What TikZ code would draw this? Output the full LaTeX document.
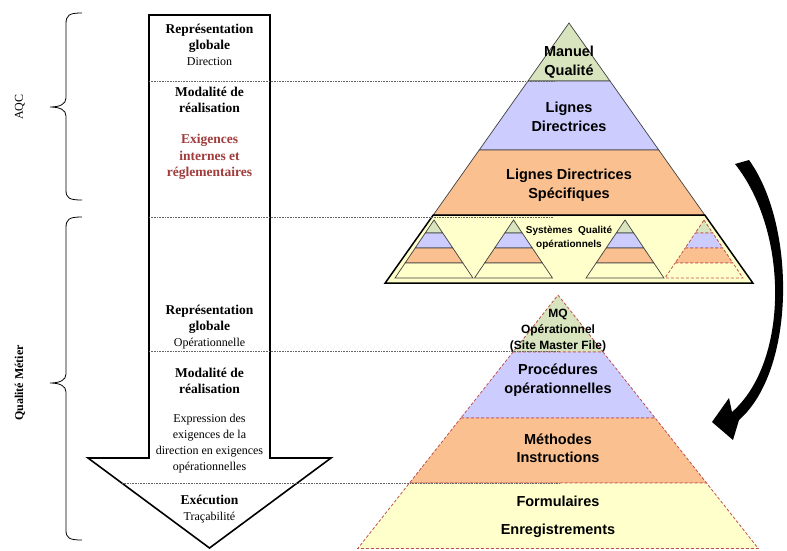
\documentclass[tikz,border=0pt]{standalone}
\usepackage{fontspec}
\setmainfont{Liberation Serif}
\newfontfamily\arialf{Liberation Sans}
\usetikzlibrary{arrows.meta}
\definecolor{pgreen}{RGB}{215,228,189}
\definecolor{pblue}{RGB}{204,204,255}
\definecolor{porange}{RGB}{250,192,144}
\definecolor{pyellow}{RGB}{255,255,204}
\definecolor{dred}{RGB}{192,80,77}
\definecolor{txtred}{RGB}{160,60,60}
\newcommand\PyrLayer[6]{%
  \path[#6] ({#1-#3*(#4-#2)},#4) -- ({#1+#3*(#4-#2)},#4) -- ({#1+#3*(#5-#2)},#5) -- ({#1-#3*(#5-#2)},#5) -- cycle;}
\tikzset{
  solidlay/.style={draw=black!75,line width=0.7pt},
  dashlay/.style={draw=dred,line width=0.8pt,dash pattern=on 3pt off 2pt},
  dotline/.style={draw=black!60,line width=0.7pt,dash pattern=on 0.8pt off 0.8pt},
  bracestyle/.style={draw=black,line width=0.8pt},
  lefttxt/.style={align=center,font=\fontsize{12}{16}\selectfont,inner sep=0pt},
  pyrtxt/.style={align=center,font=\arialf\bfseries\fontsize{14.5}{18.5}\selectfont,inner sep=0pt},
}
\begin{document}
\begin{tikzpicture}[x=1pt,y=-1pt]
\useasboundingbox (0,0) rectangle (787,550);
% ---- left arrow
\draw[line width=1.6pt,fill=white] (149,15) -- (270,15) -- (270,458) -- (331,458) -- (209.5,548) -- (88,458) -- (149,458) -- cycle;
% ---- top pyramid
\PyrLayer{569}{23}{0.707}{23}{81}{fill=pgreen,solidlay}
\PyrLayer{569}{23}{0.707}{81}{150}{fill=pblue,solidlay}
\PyrLayer{569}{23}{0.707}{150}{215}{fill=porange,solidlay}
\PyrLayer{569}{23}{0.707}{215}{283}{fill=pyellow,draw=black,line width=1.5pt}
% small pyramids
\foreach \c in {434,513.5,625}{
  \PyrLayer{\c}{220}{0.672}{220}{233}{fill=pgreen,solidlay}
  \PyrLayer{\c}{220}{0.672}{233}{248}{fill=pblue,solidlay}
  \PyrLayer{\c}{220}{0.672}{248}{263}{fill=porange,solidlay}
  \PyrLayer{\c}{220}{0.672}{263}{278}{fill=pyellow,solidlay}
}
\PyrLayer{704}{220}{0.672}{220}{233}{fill=pgreen,dashlay}
\PyrLayer{704}{220}{0.672}{233}{248}{fill=pblue,dashlay}
\PyrLayer{704}{220}{0.672}{248}{263}{fill=porange,dashlay}
\PyrLayer{704}{220}{0.672}{263}{278}{fill=pyellow,dashlay}
% ---- bottom pyramid
\PyrLayer{558}{295}{0.79}{295}{352}{fill=pgreen,dashlay}
\PyrLayer{558}{295}{0.79}{352}{418}{fill=pblue,dashlay}
\PyrLayer{558}{295}{0.79}{418}{483}{fill=porange,dashlay}
\PyrLayer{558}{295}{0.79}{483}{548.5}{fill=pyellow,dashlay}
% ---- dotted guide lines
\coordinate (d1a) at (149,81);  \coordinate (d1b) at (555,81);
\coordinate (d2a) at (149,217); \coordinate (d2b) at (553,217);
\coordinate (d3a) at (149,351); \coordinate (d3b) at (560,351);
\coordinate (d4a) at (122,483); \coordinate (d4b) at (560,483);
\draw[dotline] (d1a) -- (d1b);
\draw[dotline] (d2a) -- (d2b);
\draw[dotline] (d3a) -- (d3b);
\draw[dotline] (d4a) -- (d4b);
% ---- braces
\draw[bracestyle] (82,13) .. controls (69,13) and (66,15) .. (66,24) -- (66,98) .. controls (66,104) and (60,107) .. (50,107) .. controls (60,107) and (66,110) .. (66,116) -- (66,190) .. controls (66,198) and (69,200) .. (82,200);
\draw[bracestyle] (82,217) .. controls (69,217) and (66,219) .. (66,228) -- (66,374) .. controls (66,380) and (60,383) .. (50,383) .. controls (60,383) and (66,386) .. (66,392) -- (66,530) .. controls (66,538) and (69,540) .. (82,540);
\node[rotate=90,font=\fontsize{12}{14}\selectfont] (aqc) at (20,107) {AQC};
\node[rotate=90,font=\bfseries\fontsize{12}{14}\selectfont] (qm) at (20,383) {Qualité Métier};
% ---- left texts
\node[lefttxt] (t1) at (209.5,45) {\textbf{\fontsize{13.5}{16}\selectfont Représentation}\\\textbf{\fontsize{13.5}{16}\selectfont globale}\\Direction};
\node[lefttxt,font=\bfseries\fontsize{13.5}{16}\selectfont] (t2) at (209.5,100) {Modalité de\\réalisation};
\node[lefttxt,font=\bfseries\fontsize{13.5}{16.5}\selectfont,text=txtred] (t3) at (209.5,157) {Exigences\\internes et\\réglementaires};
\node[lefttxt] (t4) at (209.5,327) {\textbf{\fontsize{13.5}{16}\selectfont Représentation}\\\textbf{\fontsize{13.5}{16}\selectfont globale}\\Opérationnelle};
\node[lefttxt,font=\bfseries\fontsize{13.5}{16.5}\selectfont] (t5) at (209.5,381) {Modalité de\\réalisation};
\node[lefttxt] (t6) at (209.5,444) {Expression des\\exigences de la\\direction en exigences\\opérationnelles};
\node[lefttxt] (t7) at (209.5,509) {\textbf{\fontsize{13.5}{16}\selectfont Exécution}\\Traçabilité};
% ---- pyramid texts
\node[pyrtxt] (p1) at (569,62) {Manuel\\Qualité};
\node[pyrtxt] (p2) at (569,117) {Lignes\\Directrices};
\node[pyrtxt] (p3) at (569,185) {Lignes Directrices\\Spécifiques};
\node[pyrtxt,font=\arialf\bfseries\fontsize{10}{14}\selectfont] (p4) at (569,238) {Systèmes\ \ Qualité\\opérationnels};
\node[pyrtxt,font=\arialf\bfseries\fontsize{12}{16}\selectfont] (p5) at (558,331) {MQ\\Opérationnel\\(Site Master File)};
\node[pyrtxt] (p6) at (558,380) {Procédures\\opérationnelles};
\node[pyrtxt] (p7) at (558,448) {Méthodes\\Instructions};
\node[pyrtxt] (p8) at (558,501) {Formulaires};
\node[pyrtxt] (p9) at (558,531) {Enregistrements};
% ---- curved arrow (tapered, filled)
\coordinate (ca) at (742,161);
\coordinate (cb) at (712,422);
\fill[black] (749,160) .. controls (796,225) and (796,370) .. (739,420)
  -- (733,440) -- (cb) -- (729,398) -- (732,412)
  .. controls (789,362) and (789,232) .. (735,164) -- cycle;
\end{tikzpicture}
\end{document}
